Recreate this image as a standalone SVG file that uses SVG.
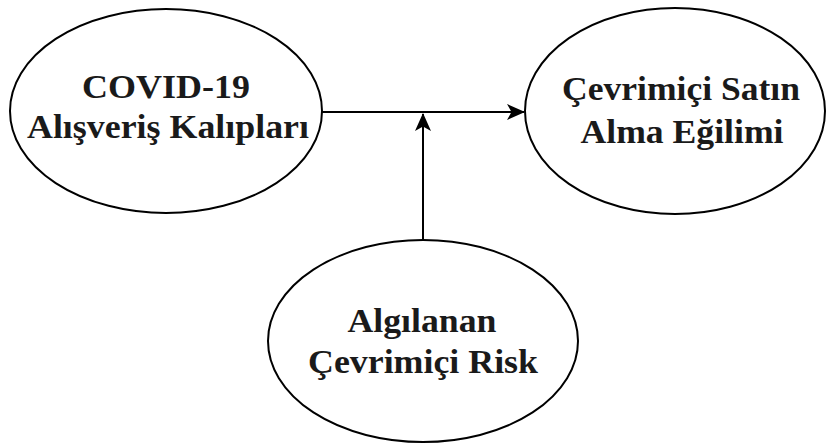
<svg xmlns="http://www.w3.org/2000/svg" width="828" height="445" viewBox="0 0 828 445">
<style>
.node ellipse{fill:#fff;stroke:#000;stroke-width:2}
.node text{font-family:"Liberation Serif","Times New Roman",serif;font-weight:bold;font-size:34px;fill:#1a1a1a;text-anchor:middle}
.edge{stroke:#000;stroke-width:2;fill:none}
</style>
<defs>
<marker id="arr" viewBox="0 0 18 16" refX="17" refY="8" markerWidth="18" markerHeight="16" markerUnits="userSpaceOnUse" orient="auto">
<path d="M0,0 L18,8 L0,16 L4.5,8 Z" fill="#000"/>
</marker>
</defs>
<rect width="828" height="445" fill="#fff"/>
<g id="connectors">
<path class="edge" d="M322,112 H524" marker-end="url(#arr)"/>
<path class="edge" d="M423,240 V114" marker-end="url(#arr)"/>
</g>
<g id="covid" class="node">
<ellipse cx="166" cy="111" rx="156" ry="102"/>
<text x="166" y="98" textLength="168" lengthAdjust="spacingAndGlyphs">COVID-19</text>
<text x="168" y="138" textLength="282" lengthAdjust="spacingAndGlyphs">Alışveriş Kalıpları</text>
</g>
<g id="cevrimici" class="node">
<ellipse cx="675" cy="111" rx="150" ry="103"/>
<text x="681" y="100" textLength="238" lengthAdjust="spacingAndGlyphs">Çevrimiçi Satın</text>
<text x="682" y="143" textLength="203" lengthAdjust="spacingAndGlyphs">Alma Eğilimi</text>
</g>
<g id="risk" class="node">
<ellipse cx="423" cy="341" rx="155" ry="101"/>
<text x="422" y="332" textLength="149" lengthAdjust="spacingAndGlyphs">Algılanan</text>
<text x="423" y="373" textLength="230" lengthAdjust="spacingAndGlyphs">Çevrimiçi Risk</text>
</g>
</svg>
